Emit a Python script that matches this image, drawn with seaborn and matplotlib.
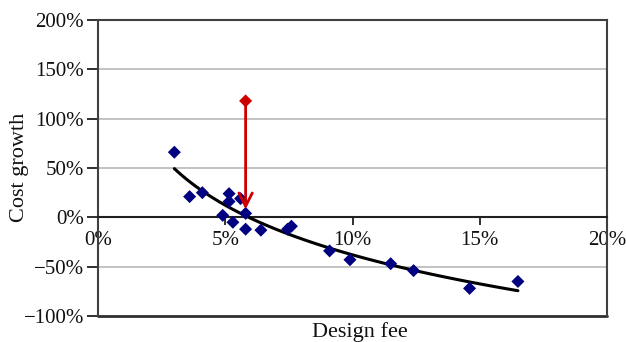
import matplotlib
matplotlib.use("Agg")
import matplotlib.pyplot as plt
import seaborn as sns
import numpy as np
import pandas as pd

# Data (percent units)
design_fee = [3.0, 3.6, 4.1, 4.9, 5.15, 5.15, 5.3, 5.6, 5.8, 5.8, 6.4, 7.45, 7.6, 9.1, 9.9, 11.5, 12.4, 14.6, 16.5]
cost_growth = [66, 21, 25, 2, 24, 16, -5, 19, 4, -12, -13, -12, -9, -34, -43, -47, -54, -72, -65]
red_fee = [5.8]
red_growth = [118]
red_arrow_end = [8]
x_ticks = [0, 5, 10, 15, 20]
y_ticks = [-100, -50, 0, 50, 100, 150, 200]

sns.set_theme(style="white")
plt.rcParams['font.family'] = ['Liberation Serif', 'DejaVu Serif']

df = pd.DataFrame({"fee": design_fee, "growth": cost_growth})

fig = plt.figure(figsize=(6.26, 3.42), dpi=100)
W, H = 626, 342
L, R, T, B = 98, 607, 20, 316
ax = fig.add_axes([L / W, (H - B) / H, (R - L) / W, (B - T) / H])

ax.set_xlim(0, 20)
ax.set_ylim(-100, 200)

# gridlines
for yv in [150, 100, 50, -50]:
    ax.axhline(yv, color="#BEBEBE", lw=1.3, zorder=0)

# trend line (logarithmic fit)
sns.regplot(data=df, x="fee", y="growth", logx=True, ci=None, scatter=False,
            truncate=True, ax=ax, line_kws=dict(color="black", lw=2.2, zorder=3))

sns.scatterplot(data=df, x="fee", y="growth", marker="D", color="#000080",
                edgecolor="none", s=44, ax=ax, zorder=4)

# red point and arrow
ax.annotate("", xy=(red_fee[0], red_arrow_end[0]), xytext=(red_fee[0], red_growth[0]),
            arrowprops=dict(arrowstyle="->", color="#CC0000", lw=2.0,
                            mutation_scale=24, shrinkA=0, shrinkB=0), zorder=5)
ax.scatter(red_fee, red_growth, marker="D", color="#CC0000", s=44, zorder=6, edgecolor="none")

# spines
for side in ["top", "right", "left"]:
    ax.spines[side].set_visible(True)
    ax.spines[side].set_color("#404040")
    ax.spines[side].set_linewidth(1.5)
ax.spines["bottom"].set_position(("data", 0))
ax.spines["bottom"].set_color("#202020")
ax.spines["bottom"].set_linewidth(1.5)
ax.axhline(-100, color="#303030", lw=2.0, clip_on=False, zorder=2)

ax.set_xticks(x_ticks)
ax.set_xticklabels([f"{v}%" for v in x_ticks])
ax.set_yticks(y_ticks)
ax.set_yticklabels([f"{v}%".replace("-", "\u2212") for v in y_ticks])
ax.tick_params(axis="x", direction="out", length=6, width=1.3, color="#202020",
               pad=4, labelsize=15, bottom=True)
ax.tick_params(axis="y", direction="out", length=8, width=1.3, color="#202020",
               pad=2, labelsize=15, left=True)
for lab in ax.get_xticklabels() + ax.get_yticklabels():
    lab.set_color("#111111")

ax.set_xlabel("")
ax.set_ylabel("")
fig.text(360 / W, 1 - 332 / H, "Design fee", ha="center", va="center", fontsize=16, color="#111111")
fig.text(20 / W, 1 - 167 / H, "Cost growth", ha="center", va="center", rotation=90,
         fontsize=16, color="#111111")

fig.savefig("out.png", dpi=100)
